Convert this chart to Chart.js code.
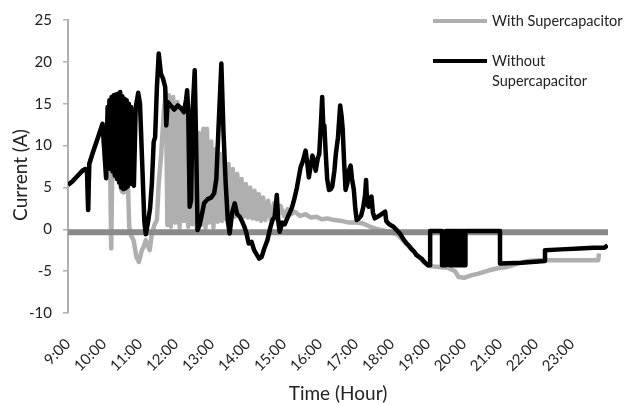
<!DOCTYPE html>
<html>
<head>
<meta charset="utf-8">
<title>Current with and without supercapacitor</title>
<script src="https://cdn.jsdelivr.net/npm/chart.js@4.4.1/dist/chart.umd.min.js"></script>
<style>
  body { margin: 0; background: #fff; }
  #wrap { position: relative; width: 624px; height: 405px; }
  #legend { position: absolute; left: 433px; top: 11px; font-family: Lato, sans-serif; font-size: 14.5px; color: #222; }
  .item { display: flex; align-items: flex-start; line-height: 20px; margin-bottom: 20px; }
  .swatch { width: 54px; height: 4px; margin-top: 8px; margin-right: 5px; }
  .name { width: 140px; }
  #ytitle { position: absolute; left: -80px; top: 164px; width: 200px; line-height: 22px; text-align: center;
      font-family: Lato, sans-serif; font-size: 19px; color: #222; transform: rotate(-90deg); }
</style>
</head>
<body>
<div id="wrap">
  <canvas id="chart" width="624" height="405"></canvas>
  <div id="ytitle">Current (A)</div>
  <div id="legend"></div>
</div>
<script>
// axis setup
const hourLabels = ['9:00', '10:00', '11:00', '12:00', '13:00', '14:00', '15:00', '16:00',
    '17:00', '18:00', '19:00', '20:00', '21:00', '22:00', '23:00'];
const hourTicks = [9, 10, 11, 12, 13, 14, 15, 16, 17, 18, 19, 20, 21, 22, 23];
const seriesNames = ['With Supercapacitor', 'Without Supercapacitor'];
const seriesColors = ['#afafaf', '#000000'];

// Without supercapacitor (black)
const withoutHours = [9.00, 9.12, 9.25, 9.40, 9.48, 9.53, 9.56, 9.59, 9.70, 9.82, 9.96, 10.06,
    10.10, 10.12, 10.15, 10.18, 10.21, 10.24, 10.27, 10.30, 10.33, 10.36, 10.39, 10.42, 10.45, 10.48,
    10.51, 10.54, 10.57, 10.60, 10.63, 10.66, 10.69, 10.72, 10.75, 10.78, 10.83, 10.88, 10.95, 11.00,
    11.06, 11.12, 11.16, 11.22, 11.28, 11.33, 11.38, 11.42, 11.47, 11.52, 11.58, 11.64, 11.70, 11.73,
    11.77, 11.85, 11.95, 12.05, 12.15, 12.22, 12.28, 12.31, 12.34, 12.38, 12.42, 12.46, 12.52, 12.56,
    12.60, 12.66, 12.72, 12.78, 12.88, 12.98, 13.06, 13.12, 13.18, 13.26, 13.32, 13.38, 13.44, 13.49,
    13.56, 13.63, 13.70, 13.77, 13.83, 13.90, 13.96, 14.02, 14.10, 14.17, 14.24, 14.31, 14.38, 14.46,
    14.54, 14.62, 14.68, 14.74, 14.80, 14.84, 14.88, 14.95, 15.02, 15.09, 15.16, 15.22, 15.28, 15.36,
    15.46, 15.53, 15.60, 15.65, 15.69, 15.74, 15.79, 15.84, 15.88, 15.94, 15.98, 16.03, 16.06, 16.09,
    16.12, 16.16, 16.20, 16.25, 16.30, 16.34, 16.40, 16.44, 16.50, 16.56, 16.60, 16.63, 16.67, 16.71,
    16.76, 16.80, 16.85, 16.89, 16.94, 16.98, 17.02, 17.08, 17.14, 17.20, 17.25, 17.28, 17.31, 17.35,
    17.40, 17.43, 17.47, 17.52, 17.60, 17.67, 17.74, 17.81, 17.84, 17.92, 18.04, 18.13, 18.22, 18.32,
    18.41, 18.48, 18.55, 18.62, 18.68, 18.75, 18.82, 18.90, 19.00, 19.06, 19.06, 19.39, 19.39, 19.50,
    19.50, 19.61, 19.61, 19.64, 19.64, 19.68, 19.68, 19.72, 19.72, 19.76, 19.76, 19.80, 19.80, 19.84,
    19.84, 19.88, 19.88, 19.92, 19.92, 19.96, 19.96, 20.00, 20.00, 20.04, 20.04, 20.08, 20.08, 21.00,
    21.00, 21.60, 22.25, 22.25, 22.70, 23.20, 23.60, 23.90, 23.99];
const withoutAmps = [5.3, 5.7, 6.3, 7.0, 7.2, 6.8, 2.3, 7.8, 9.3, 10.8, 12.6, 6.1,
    14.6, 7.6, 15.4, 7.2, 15.8, 6.9, 16.0, 6.4, 16.1, 6.0, 16.2, 5.6, 16.4, 5.0,
    15.9, 4.8, 15.6, 4.9, 15.4, 5.1, 15.0, 5.4, 14.6, 5.7, 5.2, 14.5, 16.3, 15.0,
    8.0, 1.0, -0.6, 0.8, 2.5, 5.5, 10.4, 11.0, 17.0, 21.0, 18.6, 18.0, 17.0, 12.4,
    15.2, 14.8, 14.3, 14.8, 14.4, 14.0, 15.5, 16.6, 14.0, 2.7, 3.5, 14.0, 19.0, 10.0,
    -0.1, 0.6, 1.8, 3.1, 3.6, 3.8, 4.3, 6.0, 12.0, 19.8, 11.5, 5.5, 1.0, -0.5,
    2.0, 3.1, 1.8, 1.5, 1.0, 0.3, -0.5, -1.7, -1.5, -2.5, -3.0, -3.5, -3.3, -2.2,
    -1.3, 0.2, 1.1, 1.5, 4.1, 1.0, -0.3, 0.8, 0.6, 1.3, 2.0, 2.6, 3.5, 5.0,
    7.4, 8.2, 9.4, 7.8, 6.2, 7.5, 8.8, 8.0, 7.0, 8.5, 9.0, 13.0, 15.8, 12.5,
    12.4, 9.0, 6.0, 4.7, 4.8, 5.1, 7.0, 9.0, 11.0, 14.8, 13.5, 12.0, 8.0, 4.7,
    5.5, 7.0, 7.6, 6.0, 4.7, 2.5, 1.1, 1.3, 1.6, 2.6, 4.0, 5.9, 3.0, 2.7,
    3.8, 3.9, 2.0, 1.3, 1.5, 1.7, 1.9, 2.1, 1.0, 0.6, 0.3, -0.1, -0.5, -1.2,
    -1.7, -2.0, -2.4, -2.7, -3.1, -3.3, -3.5, -3.9, -4.3, -4.3, -0.2, -0.2, -4.3, -4.3,
    -0.2, -0.2, -4.3, -4.3, -0.2, -0.2, -4.3, -4.3, -0.2, -0.2, -4.3, -4.3, -0.2, -0.2,
    -4.3, -4.3, -0.2, -0.2, -4.3, -4.3, -0.2, -0.2, -4.3, -4.3, -0.2, -0.2, -0.2, -0.2,
    -4.1, -4.0, -3.8, -2.5, -2.4, -2.3, -2.2, -2.2, -1.9];

// With supercapacitor (grey)
const withHours = [9.00, 9.12, 9.25, 9.40, 9.48, 9.53, 9.56, 9.59, 9.70, 9.82, 9.96, 10.06,
    10.12, 10.17, 10.20, 10.23, 10.30, 10.40, 10.50, 10.55, 10.62, 10.67, 10.70, 10.76, 10.82, 10.90,
    10.97, 11.05, 11.10, 11.16, 11.22, 11.27, 11.33, 11.40, 11.47, 11.52, 11.59, 11.66, 11.72, 11.76,
    11.80, 11.86, 11.92, 11.98, 12.04, 12.10, 12.16, 12.22, 12.28, 12.34, 12.40, 12.46, 12.52, 12.58,
    12.64, 12.70, 12.76, 12.82, 12.86, 12.92, 12.98, 13.04, 13.10, 13.16, 13.22, 13.28, 13.34, 13.40,
    13.46, 13.52, 13.58, 13.64, 13.70, 13.76, 13.82, 13.88, 13.94, 14.00, 14.06, 14.12, 14.18, 14.24,
    14.30, 14.36, 14.42, 14.48, 14.56, 14.64, 14.72, 14.80, 14.90, 15.00, 15.10, 15.20, 15.30, 15.45,
    15.60, 15.75, 15.90, 16.05, 16.20, 16.40, 16.60, 16.80, 17.00, 17.20, 17.40, 17.60, 17.80, 18.00,
    18.15, 18.30, 18.45, 18.60, 18.75, 18.90, 19.05, 19.30, 19.55, 19.75, 19.85, 20.00, 20.20, 20.40,
    20.70, 21.00, 21.20, 21.50, 21.75, 22.10, 22.60, 23.20, 23.73, 23.75];
const withAmps = [5.3, 5.7, 6.3, 7.0, 7.2, 6.8, 2.3, 7.8, 9.3, 10.8, 12.6, 6.1,
    7.5, 7.5, -2.3, 7.3, 7.0, 6.0, 4.5, 4.4, 5.0, 4.8, 0.3, -0.8, -1.3, -3.3,
    -3.9, -2.5, -2.1, -1.3, -2.0, -2.5, -0.5, 0.5, 1.1, 5.5, 9.0, 14.0, 16.3, 0.5,
    16.0, 0.3, 15.8, 0.8, 15.2, 0.2, 14.5, 1.0, 13.8, 0.3, 12.5, 0.6, 11.8, -0.3,
    11.5, 0.5, 12.0, 0.2, 12.0, 0.8, 10.5, 0.2, 9.6, 0.9, 9.0, 1.0, 8.4, 1.2,
    7.8, 1.4, 7.2, 1.5, 6.6, 1.6, 6.0, 1.5, 5.4, 1.4, 5.0, 1.3, 4.6, 1.2,
    4.2, 1.0, 3.8, 1.1, 3.4, 0.9, 3.1, 1.2, 2.8, 1.6, 2.4, 1.8, 2.1, 1.6,
    1.8, 1.4, 1.5, 1.2, 1.3, 1.1, 1.0, 0.8, 0.8, 0.7, 0.3, 0.0, -0.2, -0.4,
    -0.6, -1.3, -2.0, -2.6, -3.3, -4.0, -4.4, -4.5, -4.6, -5.0, -5.7, -5.8, -5.5, -5.3,
    -4.9, -4.6, -4.5, -4.1, -3.8, -3.7, -3.7, -3.7, -3.7, -2.9];

// horizontal axis line (drawn a little under 0 in the original)
const axisHours = [9, 24];
const axisAmps = [-0.35, -0.35];

const pts = (xs, ys) => xs.map((x, i) => ({ x: x, y: ys[i] }));

const tickFont = { family: 'Lato', size: 15 };
const titleFont = { family: 'Lato', size: 19 };

const ctx = document.getElementById('chart').getContext('2d');
const chart = new Chart(ctx, {
    type: 'line',
    data: {
        datasets: [{
            label: seriesNames[1],
            data: pts(withoutHours, withoutAmps),
            borderColor: seriesColors[1],
            borderWidth: 4.5,
            order: 0
        }, {
            label: 'axis',
            data: pts(axisHours, axisAmps),
            borderColor: '#8a8a8a',
            borderWidth: 6,
            borderCapStyle: 'butt',
            order: 1
        }, {
            label: seriesNames[0],
            data: pts(withHours, withAmps),
            borderColor: seriesColors[0],
            borderWidth: 4.5,
            order: 2
        }]
    },
    options: {
        responsive: false,
        animation: false,
        devicePixelRatio: 1,
        elements: {
            point: { radius: 0 },
            line: { tension: 0, borderJoinStyle: 'round' }
        },
        layout: { padding: { top: 19, right: 16, left: 0, bottom: 0 } },
        plugins: { legend: { display: false }, tooltip: { enabled: false } },
        scales: {
            x: {
                type: 'linear',
                min: 9,
                max: 24,
                afterBuildTicks: function (scale) {
                    scale.ticks = hourTicks.map(v => ({ value: v }));
                },
                afterFit: function (scale) { scale.height = 92; },
                ticks: {
                    autoSkip: false,
                    maxRotation: 45,
                    minRotation: 45,
                    padding: 14,
                    color: '#222',
                    font: tickFont,
                    callback: function (value) {
                        const i = hourTicks.indexOf(value);
                        return i >= 0 ? hourLabels[i] : '';
                    }
                },
                grid: { display: false },
                border: { display: false },
                title: { display: true, text: 'Time (Hour)', color: '#222', font: titleFont, padding: { bottom: 0 } }
            },
            y: {
                min: -10,
                max: 25,
                afterFit: function (scale) { scale.width = 68; },
                ticks: { stepSize: 5, padding: 11, color: '#222', font: tickFont },
                grid: { drawOnChartArea: false, tickLength: 5, color: '#b0b0b0', lineWidth: 1.5 },
                border: { color: '#b0b0b0', width: 2 },
                title: { display: false }
            }
        }
    }
});

// legend, built from the datasets
const legend = document.getElementById('legend');
[0, 1].forEach(function (i) {
    const item = document.createElement('div');
    item.className = 'item';
    item.innerHTML = '<div class="swatch" style="background:' + seriesColors[i] + '"></div>' +
        '<div class="name">' + seriesNames[i] + '</div>';
    legend.appendChild(item);
});
</script>
</body>
</html>
